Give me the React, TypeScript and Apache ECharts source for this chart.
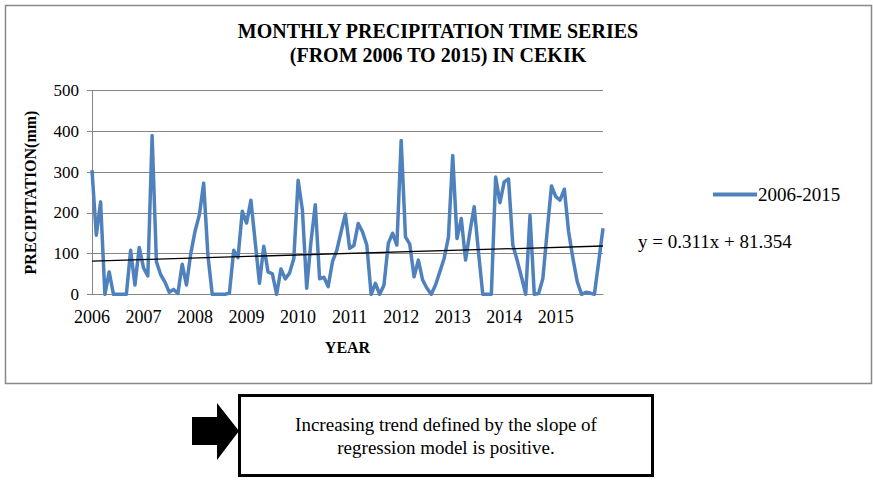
import React, { useEffect, useRef } from "react";
import * as echarts from "echarts";

const years = ["2006", "2007", "2008", "2009", "2010", "2011", "2012", "2013", "2014", "2015"];
const precipitation = [
  305, 145, 227, 0, 55, 0, 0, 0, 0, 108, 23, 115,
  65, 45, 390, 80, 48, 30, 5, 12, 2, 74, 23, 100,
  155, 195, 273, 95, 0, 0, 0, 0, 3, 108, 90, 204,
  175, 231, 129, 27, 118, 55, 50, 0, 62, 38, 52, 88,
  280, 207, 15, 130, 220, 38, 42, 19, 80, 108, 153, 197,
  113, 120, 174, 153, 121, 0, 27, 0, 23, 125, 150, 121,
  378, 141, 123, 43, 84, 35, 15, 0, 23, 55, 88, 140,
  341, 137, 186, 84, 153, 215, 104, 0, 0, 0, 288, 225,
  276, 283, 121, 84, 43, 0, 194, 0, 2, 39, 155, 266,
  240, 231, 258, 153, 88, 31, 0, 5, 3, 0, 80, 162,
];
const trendSlope = 0.311;
const trendIntercept = 81.354;
const seriesName = "2006-2015";
const yTicks = [0, 100, 200, 300, 400, 500];

const FONT = "'Liberation Serif', 'Times New Roman', serif";

export default function App() {
  const ref = useRef<HTMLDivElement>(null);
  useEffect(() => {
    document.body.style.margin = "0";
    if (!ref.current) return;
    const chart = echarts.init(ref.current, null, { renderer: "svg" });
    const months = precipitation.map((_, i) =>
      i % 12 === 0 ? years[i / 12] : `${years[Math.floor(i / 12)]}-${(i % 12) + 1}`
    );
    const n = precipitation.length;
    const trendStart = trendSlope * 1 + trendIntercept;
    const trendEnd = trendSlope * n + trendIntercept;
    chart.setOption({
      animation: false,
      backgroundColor: "#ffffff",
      textStyle: { fontFamily: FONT, color: "#000" },
      title: {
        text: "MONTHLY PRECIPITATION TIME SERIES\n(FROM 2006 TO 2015) IN CEKIK",
        left: 433,
        top: 14,
        textAlign: "center",
        textStyle: { fontFamily: FONT, fontSize: 20, fontWeight: "bold", color: "#000", lineHeight: 24 },
      },
      legend: {
        left: 708,
        top: 180,
        data: [seriesName],
        icon: "rect",
        itemWidth: 44,
        itemHeight: 4,
        itemGap: 0,
        textStyle: { fontFamily: FONT, fontSize: 19, color: "#000", padding: [0, 0, 0, -4] },
      },
      grid: { left: 92, right: 270, top: 90.7, bottom: 185.7, containLabel: false },
      xAxis: {
        type: "category",
        data: months,
        boundaryGap: false,
        name: "YEAR",
        nameLocation: "middle",
        nameGap: 45,
        nameTextStyle: { fontFamily: FONT, fontSize: 16, fontWeight: "bold", color: "#000" },
        axisLine: { lineStyle: { color: "#868686", width: 1 } },
        axisTick: { show: false },
        axisLabel: {
          interval: (i: number) => i % 12 === 0,
          formatter: (v: string) => v,
          margin: 14,
          fontFamily: FONT,
          fontSize: 18,
          color: "#000",
        },
        splitLine: { show: false },
      },
      yAxis: {
        type: "value",
        min: yTicks[0],
        max: yTicks[yTicks.length - 1],
        interval: 100,
        name: "PRECIPITATION(mm)",
        nameLocation: "middle",
        nameGap: 54,
        nameRotate: 90,
        nameTextStyle: { fontFamily: FONT, fontSize: 16, fontWeight: "bold", color: "#000" },
        axisLine: { show: true, lineStyle: { color: "#868686", width: 1 } },
        axisTick: { show: true, length: 5, lineStyle: { color: "#868686" } },
        axisLabel: { margin: 13, fontFamily: FONT, fontSize: 17, color: "#000" },
        splitLine: { lineStyle: { color: "#868686", width: 1 } },
      },
      series: [
        {
          name: seriesName,
          type: "line",
          data: precipitation,
          symbol: "none",
          color: "#4F81BD",
          lineStyle: { color: "#4F81BD", width: 3.5, join: "round" },
          markLine: {
            silent: true,
            symbol: ["none", "none"],
            label: { show: false },
            lineStyle: { color: "#000", width: 1.3, type: "solid" },
            data: [[{ coord: [0, trendStart] }, { coord: [n - 1, trendEnd] }]],
          },
        },
      ],
      graphic: [
        {
          type: "rect",
          left: 3,
          top: 3,
          shape: { x: 0, y: 0, width: 866, height: 378 },
          style: { fill: "none", stroke: "#888", lineWidth: 1.5 },
          silent: true,
          z: -1,
        },
        {
          type: "text",
          x: 638,
          y: 241,
          style: {
            text: `y = ${trendSlope}x + ${trendIntercept}`,
            fontFamily: FONT,
            fontSize: 19,
            fill: "#000",
            verticalAlign: "middle",
          },
        },
        {
          type: "polygon",
          shape: {
            points: [
              [192, 417], [217, 417], [217, 403], [239, 431], [217, 460], [217, 445], [192, 445],
            ],
          },
          style: { fill: "#000" },
        },
        {
          type: "rect",
          shape: { x: 239.5, y: 395.5, width: 413, height: 80 },
          style: { fill: "#fff", stroke: "#000", lineWidth: 3 },
        },
        {
          type: "text",
          x: 446,
          y: 436,
          style: {
            text: "Increasing trend defined by the slope of\nregression model is positive.",
            fontFamily: FONT,
            fontSize: 19,
            lineHeight: 23,
            fill: "#000",
            align: "center",
            verticalAlign: "middle",
          },
        },
      ],
    });
    return () => chart.dispose();
  }, []);
  return <div ref={ref} style={{ width: 873, height: 480 }} />;
}
